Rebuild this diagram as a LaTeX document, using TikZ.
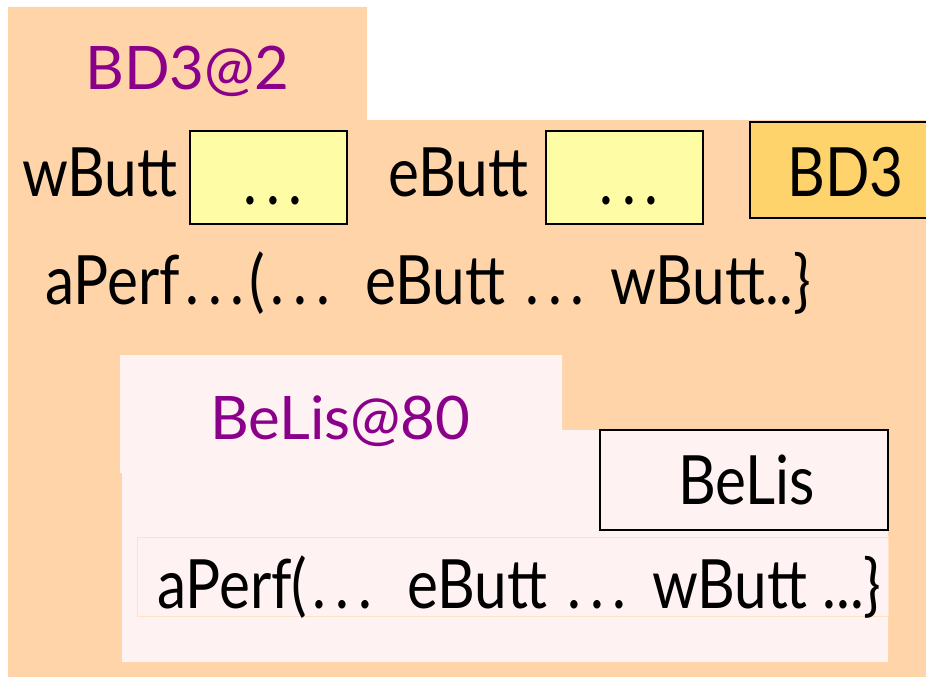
\documentclass[tikz,border=0pt]{standalone}
\usepackage{fontspec}
\setmainfont{Lato}[FakeStretch=0.86]
\newfontfamily\ttlfont{Lato}
\newcommand\gdots{\kern0.08em.\kern0.13em.\kern0.13em.\kern0.08em}
\definecolor{peach}{HTML}{FED4A8}
\definecolor{pinkbg}{HTML}{FFF2F2}
\definecolor{yelbox}{HTML}{FFFCA6}
\definecolor{goldbox}{HTML}{FFD36B}
\definecolor{purp}{HTML}{8B008B}
\definecolor{thinline}{HTML}{FFE2C8}
\tikzset{
  lbl/.style={anchor=base west, inner sep=0pt, font=\fontsize{68}{72}\selectfont},
  ttl/.style={anchor=base west, inner sep=0pt, text=purp, font=\ttlfont\fontsize{60}{64}\selectfont},
  slot/.style={draw=black, line width=1.3pt, fill=yelbox, inner sep=0pt},
}
\begin{document}
\begin{tikzpicture}[x=1pt,y=-1pt]
\useasboundingbox (0,0) rectangle (926,677);
% outer component shape
\fill[peach] (8,7) -- (367,7) -- (367,120) -- (926,120) -- (926,677) -- (8,677) -- cycle;
% inner component shape
\fill[pinkbg] (120,355) -- (562,355) -- (562,430) -- (888,430) -- (888,662) -- (122,662) -- (122,473) -- (120,473) -- cycle;
% boxes
\draw[slot] (190,131) rectangle (347,224);
\draw[slot] (546,131) rectangle (703,224);
\draw[draw=black, line width=1.3pt, fill=goldbox] (750,122) rectangle (930,218);
\draw[draw=black, line width=1.3pt, fill=pinkbg] (600,430) rectangle (888,530);
\draw[draw=thinline, line width=1pt] (137,537) rectangle (888,616);
% texts
\node[ttl] (t1) at (85,89) {BD3@2};
\node[lbl] (w) at (22,196) {wButt};
\node[lbl] (wd) at (238,204) {\gdots};
\node[lbl] (e) at (388,196) {eButt};
\node[lbl] (ed) at (594,204) {\gdots};
\node[lbl] (bd) at (787,196) {BD3};
\node[lbl] (ap1) at (45,304) {aPerf\gdots(\gdots\ \ eButt \gdots{} wButt..\}};
\node[ttl] (t2) at (210,439) {BeLis@80};
\node[lbl] (bl) at (678,504) {BeLis};
\node[lbl] (ap2) at (157,608) {aPerf(\gdots\ \ eButt \gdots{} wButt ...\}};
\end{tikzpicture}
\end{document}
